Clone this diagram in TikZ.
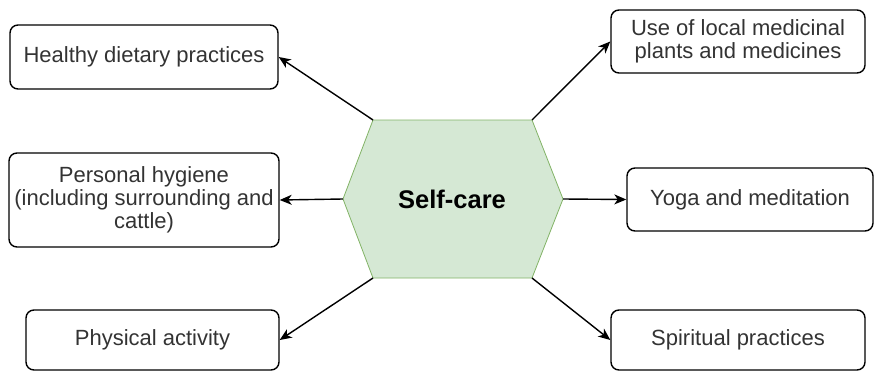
\documentclass[tikz,border=0pt]{standalone}
\usepackage{fontspec}
\setmainfont{Liberation Sans}
\usetikzlibrary{arrows.meta}
\definecolor{hexfill}{HTML}{D5E8D4}
\definecolor{hexline}{HTML}{82B366}
\begin{document}
\begin{tikzpicture}[x=1pt, y=-1pt, line width=1.4pt,
    box/.style={draw, rounded corners=8pt, align=center, inner sep=0pt,
      font=\fontsize{22}{23}\selectfont, text=black!80},
    arrow/.style={-{Stealth[length=12pt,width=10pt,inset=3.5pt]}}]
    \useasboundingbox (0,0) rectangle (874,372);
    % hexagon in the middle
    \coordinate (hl) at (343,199);
    \coordinate (htl) at (373,120);
    \coordinate (htr) at (532,120);
    \coordinate (hr) at (563,199);
    \coordinate (hbr) at (532,278);
    \coordinate (hbl) at (373,278);
    \draw[fill=hexfill, draw=hexline, line width=0.8pt] (hl) -- (htl) -- (htr) -- (hr) -- (hbr) -- (hbl) -- cycle;
    \node (care) at (452,199) {\fontsize{25.5}{30}\selectfont\textbf{Self-care}};
    % left side
    \node[box, minimum width=268pt, minimum height=64pt] (diet) at (144,57) {Healthy dietary practices};
    \node[box, minimum width=270pt, minimum height=94pt] (hygiene) at (144,200) {Personal hygiene\\(including surrounding and\\cattle)};
    \node[box, minimum width=253pt, minimum height=60pt] (activity) at (152.5,340) {Physical activity};
    % right side
    \node[box, minimum width=254pt, minimum height=63pt] (plants) at (738,41.5) {Use of local medicinal\\plants and medicines};
    \node[box, minimum width=246pt, minimum height=63pt] (yoga) at (750,199.5) {Yoga and meditation};
    \node[box, minimum width=254pt, minimum height=60pt] (spirit) at (738,340) {Spiritual practices};
    \draw[arrow] (htl) -- (diet.east);
    \draw[arrow] (hl) -- (hygiene.east);
    \draw[arrow] (hbl) -- (activity.east);
    \draw[arrow] (htr) -- (plants.west);
    \draw[arrow] (hr) -- (yoga.west);
    \draw[arrow] (hbr) -- (spirit.west);
\end{tikzpicture}
\end{document}
